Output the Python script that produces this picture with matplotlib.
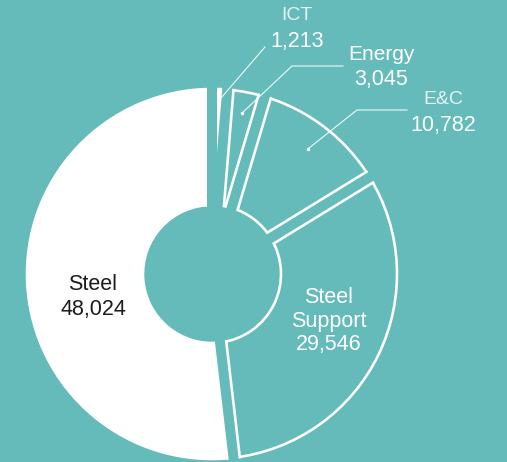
import numpy as np
import matplotlib.pyplot as plt

# Sales by business segment
categories = ["ICT", "Energy", "E&C", "Steel\nSupport", "Steel"]
values = [1213, 3045, 10782, 29546, 48024]
value_labels = ["1,213", "3,045", "10,782", "29,546", "48,024"]

bg = "#65bbb9"
W, H = 507, 462
px = 72 / 100  # pixel -> point at dpi 100

cx, cy = 212, 188          # donut centre (pixels, y up)
r_out, r_in = 185, 69
gap = 10                   # width of the channel between slices
edge = 2.6                 # white outline width

plt.rcParams["font.family"] = ["Liberation Sans", "DejaVu Sans"]

fig = plt.figure(figsize=(W / 100, H / 100), dpi=100, facecolor=bg)
ax = fig.add_axes([0, 0, 1, 1])
ax.set_facecolor(bg)

faces = [bg, bg, bg, bg, "white"]
wedges, _ = ax.pie(values, colors=faces, startangle=90, counterclock=False,
                   radius=r_out, center=(cx, cy), frame=True,
                   wedgeprops=dict(width=r_out - r_in, edgecolor="white",
                                   linewidth=edge * px))

ax.set_xlim(0, W)
ax.set_ylim(0, H)
ax.set_aspect("equal")
ax.axis("off")

# slice boundaries (matplotlib angle convention)
frac = np.array(values) / sum(values)
starts = np.concatenate([[0], np.cumsum(frac)[:-1]])
bounds = np.radians(90 - 360 * starts)
mids = np.radians(90 - 360 * (starts + frac / 2))

# constant-width channels: white band first, then a narrower background band
for th in bounds:
    d = np.array([np.cos(th), np.sin(th)])
    a = np.array([cx, cy]) + (r_in - edge / 2) * d
    b = np.array([cx, cy]) + (r_out + edge / 2) * d
    ax.plot([a[0], b[0]], [a[1], b[1]], color="white",
            lw=(gap + 2 * edge) * px, solid_capstyle="butt", zorder=3)
for th in bounds:
    d = np.array([np.cos(th), np.sin(th)])
    a = np.array([cx, cy]) + (r_in - 6) * d
    b = np.array([cx, cy]) + (r_out + 6) * d
    ax.plot([a[0], b[0]], [a[1], b[1]], color=bg,
            lw=gap * px, solid_capstyle="butt", zorder=4)

# inside labels
ax.text(93, H - 297, categories[4] + "\n" + value_labels[4], ha="center",
        va="center", color="#1c1c1c", fontsize=15.5, linespacing=1.2, zorder=6)
ax.text(329, H - 321, categories[3] + "\n" + value_labels[3], ha="center",
        va="center", color="white", fontsize=15.5, linespacing=1.15, zorder=6)

# outside labels with leader lines
name_pos = [(297, 16), (381, 55), (443, 99)]
val_pos = [(297, 42), (381, 79), (443, 125)]
name_col = ["#e4f3f2", "white", "#e4f3f2"]
name_size = [14, 15, 14]
dot_r = [174, 164, 158]
elbows = [[(265, 47)], [(343, 66), (292, 66)], [(407, 110), (357, 110)]]

for i in range(3):
    ax.text(name_pos[i][0], H - name_pos[i][1], categories[i], ha="center",
            va="center", color=name_col[i], fontsize=name_size[i], zorder=6)
    ax.text(val_pos[i][0], H - val_pos[i][1], value_labels[i], ha="center",
            va="center", color="white", fontsize=15.5, zorder=6)
    dx = cx + dot_r[i] * np.cos(mids[i])
    dy = cy + dot_r[i] * np.sin(mids[i])
    xs = [p[0] for p in elbows[i]] + [dx]
    ys = [H - p[1] for p in elbows[i]] + [dy]
    ax.plot(xs, ys, color="white", lw=0.8, alpha=0.9, zorder=6)
    ax.plot(dx, dy, "o", color="white", ms=2.5, mew=0, zorder=7)

fig.savefig("out.png", dpi=100, facecolor=bg)
